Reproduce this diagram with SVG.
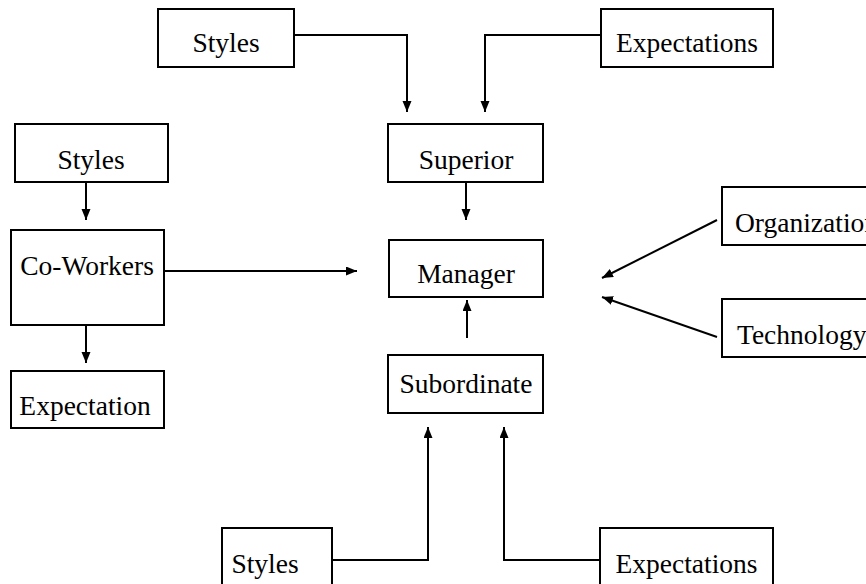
<svg xmlns="http://www.w3.org/2000/svg" width="866" height="584" viewBox="0 0 866 584">
<defs>
<marker id="ah" markerUnits="userSpaceOnUse" markerWidth="11" markerHeight="10" refX="11" refY="4.5" orient="auto">
<path d="M0,0 L11,4.5 L0,9 z" fill="#000"/>
</marker>
<style>
.box{fill:#fff;stroke:#000;stroke-width:2}
.lbl{font-family:"Liberation Serif","Times New Roman",serif;font-size:27.5px;fill:#000;text-anchor:middle}
.lft{text-anchor:start}
.con{fill:none;stroke:#000;stroke-width:2;marker-end:url(#ah)}
</style>
</defs>
<rect width="866" height="584" fill="#fff"/>
<g id="connectors">
<path class="con" d="M294,35 H407 V112"/>
<path class="con" d="M601,35 H485 V112"/>
<path class="con" d="M466,182 V220"/>
<path class="con" d="M467,338 V300"/>
<path class="con" d="M86,182 V220"/>
<path class="con" d="M86,325 V363"/>
<path class="con" d="M164,271 H357"/>
<path class="con" d="M717,220 L602,278"/>
<path class="con" d="M717,337 L602,297"/>
<path class="con" d="M332,560 H428 V427"/>
<path class="con" d="M600,560 H504 V427"/>
</g>
<g id="styles-top"><rect class="box" x="158" y="9" width="136" height="58"/><text class="lbl" x="226" y="52">Styles</text></g>
<g id="expectations-top"><rect class="box" x="601" y="9" width="172" height="58"/><text class="lbl" x="687" y="52">Expectations</text></g>
<g id="superior"><rect class="box" x="388" y="124" width="155" height="58"/><text class="lbl" x="466" y="169">Superior</text></g>
<g id="manager"><rect class="box" x="389" y="240" width="154" height="57"/><text class="lbl" x="466" y="283">Manager</text></g>
<g id="subordinate"><rect class="box" x="388" y="355" width="155" height="58"/><text class="lbl" x="466" y="393">Subordinate</text></g>
<g id="styles-left"><rect class="box" x="15" y="124" width="153" height="58"/><text class="lbl" x="91" y="169">Styles</text></g>
<g id="coworkers"><rect class="box" x="11" y="230" width="153" height="95"/><text class="lbl" x="87" y="275">Co-Workers</text></g>
<g id="expectation-left"><rect class="box" x="11" y="371" width="153" height="57"/><text class="lbl" x="85" y="415">Expectation</text></g>
<g id="organization"><rect class="box" x="722" y="187" width="160" height="58"/><text class="lbl lft" x="735" y="232">Organization</text></g>
<g id="technology"><rect class="box" x="722" y="299" width="160" height="58"/><text class="lbl lft" x="737" y="344">Technology</text></g>
<g id="styles-bottom"><rect class="box" x="222" y="528" width="110" height="64"/><text class="lbl" x="265" y="573">Styles</text></g>
<g id="expectations-bottom"><rect class="box" x="600" y="528" width="173" height="64"/><text class="lbl" x="686.5" y="573">Expectations</text></g>
</svg>
